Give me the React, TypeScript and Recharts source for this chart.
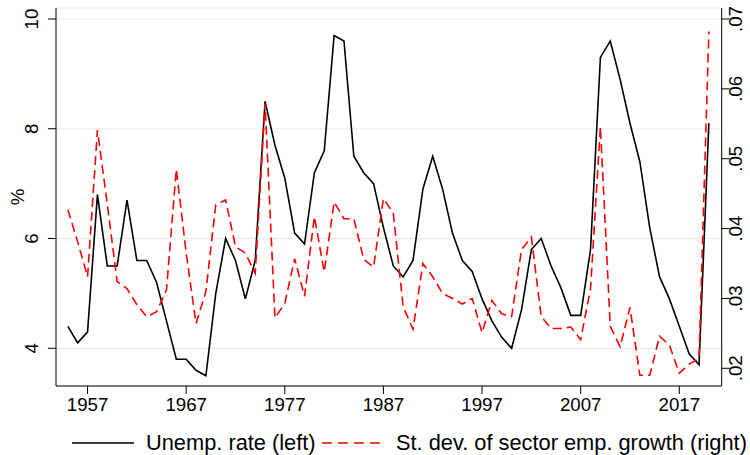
import React from 'react';
import { LineChart, Line, XAxis, YAxis, CartesianGrid, Legend } from 'recharts';

const years = [
  1955, 1956, 1957, 1958, 1959, 1960, 1961, 1962, 1963, 1964,
  1965, 1966, 1967, 1968, 1969, 1970, 1971, 1972, 1973, 1974,
  1975, 1976, 1977, 1978, 1979, 1980, 1981, 1982, 1983, 1984,
  1985, 1986, 1987, 1988, 1989, 1990, 1991, 1992, 1993, 1994,
  1995, 1996, 1997, 1998, 1999, 2000, 2001, 2002, 2003, 2004,
  2005, 2006, 2007, 2008, 2009, 2010, 2011, 2012, 2013, 2014,
  2015, 2016, 2017, 2018, 2019, 2020,
];

const unempRate = [
  4.4, 4.1, 4.3, 6.8, 5.5, 5.5, 6.7, 5.6, 5.6, 5.2,
  4.5, 3.8, 3.8, 3.6, 3.5, 5.0, 6.0, 5.6, 4.9, 5.6,
  8.5, 7.7, 7.1, 6.1, 5.9, 7.2, 7.6, 9.7, 9.6, 7.5,
  7.2, 7.0, 6.2, 5.5, 5.3, 5.6, 6.9, 7.5, 6.9, 6.1,
  5.6, 5.4, 4.9, 4.5, 4.2, 4.0, 4.7, 5.8, 6.0, 5.5,
  5.1, 4.6, 4.6, 5.8, 9.3, 9.6, 8.9, 8.1, 7.4, 6.2,
  5.3, 4.9, 4.4, 3.9, 3.7, 8.1,
];

const sectorSd = [
  0.0427, 0.0381, 0.0331, 0.0541, 0.0435, 0.0324, 0.0314, 0.0291, 0.0274, 0.0281,
  0.0312, 0.0485, 0.0365, 0.0264, 0.0310, 0.0434, 0.0441, 0.0374, 0.0365, 0.0336,
  0.0579, 0.0272, 0.0293, 0.0357, 0.0303, 0.0417, 0.0338, 0.0438, 0.0414, 0.0414,
  0.0356, 0.0345, 0.0443, 0.0422, 0.0288, 0.0256, 0.0350, 0.0331, 0.0307, 0.0300,
  0.0292, 0.0300, 0.0251, 0.0297, 0.0278, 0.0274, 0.0370, 0.0388, 0.0274, 0.0257,
  0.0257, 0.0259, 0.0241, 0.0314, 0.0546, 0.0260, 0.0231, 0.0287, 0.0190, 0.0190,
  0.0246, 0.0233, 0.0193, 0.0206, 0.0214, 0.0682,
];

const xTicks = [1957, 1967, 1977, 1987, 1997, 2007, 2017];
const leftTicks = [4, 6, 8, 10];
const rightTicks = [0.02, 0.03, 0.04, 0.05, 0.06, 0.07];
const rightTickLabels = ['.02', '.03', '.04', '.05', '.06', '.07'];

const leftLabel = '%';
const seriesNames = ['Unemp. rate (left)', 'St. dev. of sector emp. growth (right)'];

const data = years.map((year, i) => ({ year, unemp: unempRate[i], sd: sectorSd[i] }));

const FONT = '"Liberation Sans", Arial, Helvetica, sans-serif';
const TICK_FS = 18.7;
const LEGEND_FS = 21.8;

const LeftTick = (props: any) => {
  const { y, payload } = props;
  const bx = 38;
  return (
    <text x={bx} y={y} transform={`rotate(-90 ${bx} ${y})`} textAnchor="middle"
      fontSize={TICK_FS} fontFamily={FONT} fill="#000">
      {payload.value}
    </text>
  );
};

const RightTick = (props: any) => {
  const { y, payload } = props;
  const bx = 742;
  const idx = rightTicks.findIndex((t) => Math.abs(t - payload.value) < 1e-9);
  const label = idx >= 0 ? rightTickLabels[idx] : String(payload.value);
  return (
    <text x={bx} y={y} transform={`rotate(-90 ${bx} ${y})`} textAnchor="middle"
      fontSize={TICK_FS} fontFamily={FONT} fill="#000">
      {label}
    </text>
  );
};

const PctLabel = () => {
  const bx = 23.5;
  const by = 197;
  return (
    <text x={bx} y={by} transform={`rotate(-90 ${bx} ${by})`} textAnchor="middle"
      fontSize={TICK_FS} fontFamily={FONT} fill="#000">
      {leftLabel}
    </text>
  );
};

const LegendContent = () => (
  <svg width={750} height={25} style={{ display: 'block' }}>
    <line x1={72} x2={134} y1={13} y2={13} stroke="#000" strokeWidth={1.6} />
    <text x={146} y={20} fontSize={LEGEND_FS} fontFamily={FONT} fill="#000">{seriesNames[0]}</text>
    <line x1={322} x2={386} y1={13} y2={13} stroke="#ff0000" strokeWidth={1.6} strokeDasharray="10 6" />
    <text x={396} y={20} fontSize={LEGEND_FS} fontFamily={FONT} fill="#000">{seriesNames[1]}</text>
  </svg>
);

export default function App() {
  return (
    <div style={{ position: 'absolute', left: 0, top: 0, width: 750, height: 455, background: '#fff' }}>
      <LineChart width={750} height={455} data={data} margin={{ top: 8, right: 0, bottom: 0, left: 0 }}>
        <CartesianGrid yAxisId="left" vertical={false} stroke="#e4edf0" strokeWidth={1.2} />
        <XAxis
          dataKey="year"
          type="number"
          domain={[1953.8, 2021.3]}
          ticks={xTicks}
          allowDataOverflow
          height={69}
          tickSize={8}
          tickMargin={4}
          axisLine={{ stroke: '#000', strokeWidth: 1 }}
          tickLine={{ stroke: '#000', strokeWidth: 1 }}
          tick={{ fontSize: TICK_FS, fontFamily: FONT, fill: '#000' }}
        />
        <YAxis
          yAxisId="left"
          type="number"
          domain={[3.313, 10.2004]}
          ticks={leftTicks}
          allowDataOverflow
          width={56}
          tickSize={8}
          axisLine={{ stroke: '#000', strokeWidth: 1 }}
          tickLine={{ stroke: '#000', strokeWidth: 1 }}
          tick={<LeftTick />}
          label={PctLabel}
        />
        <YAxis
          yAxisId="right"
          orientation="right"
          type="number"
          domain={[0.017466, 0.071575]}
          ticks={rightTicks}
          allowDataOverflow
          width={28.3}
          tickSize={8}
          axisLine={{ stroke: '#000', strokeWidth: 1 }}
          tickLine={{ stroke: '#000', strokeWidth: 1 }}
          tick={<RightTick />}
        />
        <Legend
          layout="horizontal"
          verticalAlign="middle"
          align="center"
          wrapperStyle={{ position: 'absolute', top: 430, left: 0, width: 750, height: 25, margin: 0 }}
          content={<LegendContent />}
        />
        <Line yAxisId="left" type="linear" dataKey="unemp" name={seriesNames[0]} stroke="#000"
          strokeWidth={1.6} dot={false} activeDot={false} isAnimationActive={false} />
        <Line yAxisId="right" type="linear" dataKey="sd" name={seriesNames[1]} stroke="#ff0000"
          strokeWidth={1.6} strokeDasharray="9 5" dot={false} activeDot={false} isAnimationActive={false} />
      </LineChart>
    </div>
  );
}
